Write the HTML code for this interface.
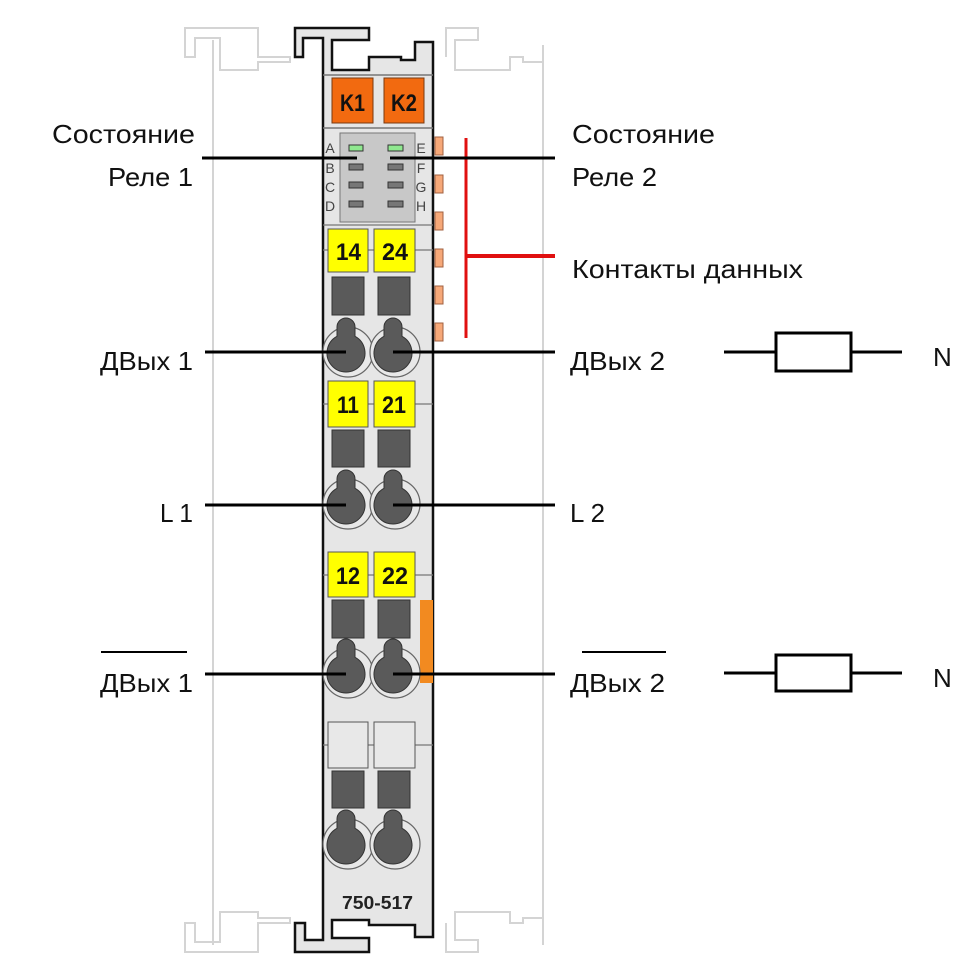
<!DOCTYPE html>
<html><head><meta charset="utf-8"><style>
html,body{margin:0;padding:0;background:#fff;width:980px;height:980px;overflow:hidden}
text{font-family:"Liberation Sans",sans-serif}
</style></head><body>
<svg width="980" height="980" viewBox="0 0 980 980" xmlns="http://www.w3.org/2000/svg">
<g fill="none" stroke="#d4d4d4" stroke-width="2">
<path d="M185,57 V28 H258 V57 H290 V62 H258 V70 H220 V38 H195 V57 Z"/>
<line x1="213" y1="40" x2="213" y2="945"/>
<path d="M446,57 V28 H478 V40 H455 V70 H510 V57 H523 V62 H543"/>
<line x1="543" y1="45" x2="543" y2="945"/>
<path d="M185,923 V952 H258 V923 H290 V918 H258 V912 H220 V942 H195 V923 Z"/>
<path d="M446,923 V952 H478 V940 H455 V912 H510 V923 H523 V918 H543"/>
</g>
<path d="M295,28 H369 V40 H332 V70 H369 V57 H401 V60 H415 V42 H433 V937 H415 V925 H369 V920 H332 V938 H369 V952 H295 V923 H305 V940 H323 V38 H303 V57 H295 Z" fill="#e6e6e6" stroke="#111" stroke-width="2.5"/>
<line x1="323" y1="75" x2="433" y2="75" stroke="#777" stroke-width="1.5"/>
<line x1="323" y1="128" x2="433" y2="128" stroke="#777" stroke-width="1.5"/>
<rect x="332" y="78" width="41" height="45" fill="#f26a10" stroke="#7a3a10" stroke-width="1"/>
<rect x="384" y="78" width="40" height="45" fill="#f26a10" stroke="#7a3a10" stroke-width="1"/>
<text x="340" y="111" font-size="24" font-weight="bold" fill="#111" textLength="25" lengthAdjust="spacingAndGlyphs">K1</text>
<text x="391" y="111" font-size="24" font-weight="bold" fill="#111" textLength="26" lengthAdjust="spacingAndGlyphs">K2</text>
<rect x="340" y="133" width="75" height="89" fill="#c8c8c8" stroke="#777" stroke-width="1"/>
<g stroke="#333" stroke-width="1">
<rect x="349" y="145" width="14" height="6" fill="#8fe88f"/>
<rect x="388" y="145" width="15" height="6" fill="#8fe88f"/>
<rect x="349" y="164" width="14" height="6" fill="#777"/>
<rect x="388" y="164" width="15" height="6" fill="#777"/>
<rect x="349" y="182" width="14" height="6" fill="#777"/>
<rect x="388" y="182" width="15" height="6" fill="#777"/>
<rect x="349" y="201" width="14" height="6" fill="#777"/>
<rect x="388" y="201" width="15" height="6" fill="#777"/>
</g>
<g font-size="14" fill="#444" text-anchor="middle">
<text x="330" y="153">A</text><text x="330" y="173">B</text><text x="330" y="192">C</text><text x="330" y="211">D</text>
<text x="421" y="153">E</text><text x="421" y="173">F</text><text x="421" y="192">G</text><text x="421" y="211">H</text>
</g>
<g fill="#f6a878" stroke="#a06040" stroke-width="1">
<rect x="435" y="137" width="8" height="18"/><rect x="435" y="175" width="8" height="18"/>
<rect x="435" y="212" width="8" height="18"/><rect x="435" y="249" width="8" height="18"/>
<rect x="435" y="286" width="8" height="18"/><rect x="435" y="323" width="8" height="18"/>
</g>
<rect x="420" y="600" width="13" height="83" fill="#f28a20"/>
<g stroke="#777" stroke-width="1.2">
<line x1="323" y1="250" x2="433" y2="250"/><line x1="323" y1="404" x2="433" y2="404"/>
<line x1="323" y1="575" x2="433" y2="575"/><line x1="323" y1="745" x2="433" y2="745"/>
<line x1="323" y1="225" x2="433" y2="225"/>
</g>
<g stroke="#555" stroke-width="1">
<rect x="328" y="229" width="40" height="43" fill="#ffff00"/><rect x="374" y="229" width="41" height="43" fill="#ffff00"/>
<rect x="328" y="381" width="40" height="46" fill="#ffff00"/><rect x="374" y="381" width="41" height="46" fill="#ffff00"/>
<rect x="328" y="552" width="40" height="45" fill="#ffff00"/><rect x="374" y="552" width="41" height="45" fill="#ffff00"/>
<rect x="328" y="722" width="40" height="46" fill="#e8e8e8"/><rect x="374" y="722" width="41" height="46" fill="#e8e8e8"/>
</g>
<g font-size="24" font-weight="bold" fill="#111">
<text x="336" y="260" textLength="25" lengthAdjust="spacingAndGlyphs">14</text><text x="382" y="260" textLength="26" lengthAdjust="spacingAndGlyphs">24</text>
<text x="337" y="413" textLength="22" lengthAdjust="spacingAndGlyphs">11</text><text x="382" y="413" textLength="24" lengthAdjust="spacingAndGlyphs">21</text>
<text x="336" y="584" textLength="24" lengthAdjust="spacingAndGlyphs">12</text><text x="382" y="584" textLength="26" lengthAdjust="spacingAndGlyphs">22</text>
</g>
<g fill="#5a5a5a" stroke="#333" stroke-width="1">
<rect x="332" y="277" width="32" height="38"/><rect x="378" y="277" width="32" height="38"/>
<rect x="332" y="430" width="32" height="37"/><rect x="378" y="430" width="32" height="37"/>
<rect x="332" y="600" width="32" height="38"/><rect x="378" y="600" width="32" height="38"/>
<rect x="332" y="771" width="32" height="37"/><rect x="378" y="771" width="32" height="37"/>
</g>
<defs>
<g id="clamp">
<circle cx="2" cy="0" r="25" fill="#e8e8e8" stroke="#666" stroke-width="1.2"/>
<path d="M-9,-15.7 V-25 A9,9 0 0 1 9,-25 V-15.7 A19,19 0 1 1 -9,-15.7 Z" fill="#5a5a5a" stroke="#333" stroke-width="1"/>
</g>
</defs>
<use href="#clamp" x="346" y="352"/><use href="#clamp" x="393" y="352"/>
<use href="#clamp" x="346" y="504"/><use href="#clamp" x="393" y="504"/>
<use href="#clamp" x="346" y="673"/><use href="#clamp" x="393" y="673"/>
<use href="#clamp" x="346" y="844"/><use href="#clamp" x="393" y="844"/>
<text x="342" y="909" font-size="18" font-weight="bold" fill="#222" textLength="71" lengthAdjust="spacingAndGlyphs">750-517</text>
<g stroke="#e01010" stroke-width="3">
<line x1="466" y1="138" x2="466" y2="338"/>
<line x1="466" y1="256" x2="555" y2="256" stroke-width="4"/>
</g>
<g stroke="#000" stroke-width="3">
<line x1="202" y1="158" x2="357" y2="158"/><line x1="390" y1="158" x2="555" y2="158"/>
<line x1="205" y1="352" x2="346" y2="352"/><line x1="393" y1="352" x2="555" y2="352"/>
<line x1="205" y1="505" x2="346" y2="505"/><line x1="393" y1="505" x2="555" y2="505"/>
<line x1="205" y1="674" x2="346" y2="674"/><line x1="393" y1="674" x2="555" y2="674"/>
<line x1="724" y1="352" x2="776" y2="352"/><line x1="851" y1="352" x2="902" y2="352"/>
<rect x="776" y="333" width="75" height="38" fill="#fff"/>
<line x1="724" y1="673" x2="776" y2="673"/><line x1="851" y1="673" x2="902" y2="673"/>
<rect x="776" y="655" width="75" height="36" fill="#fff"/>
<line x1="101" y1="652" x2="187" y2="652" stroke-width="2"/>
<line x1="582" y1="652" x2="666" y2="652" stroke-width="2"/>
</g>
<g font-size="26" fill="#111">
<text x="52" y="143" textLength="143" lengthAdjust="spacingAndGlyphs">Состояние</text>
<text x="108" y="186" textLength="85" lengthAdjust="spacingAndGlyphs">Реле 1</text>
<text x="572" y="143" textLength="143" lengthAdjust="spacingAndGlyphs">Состояние</text>
<text x="572" y="186" textLength="85" lengthAdjust="spacingAndGlyphs">Реле 2</text>
<text x="572" y="278" textLength="231" lengthAdjust="spacingAndGlyphs">Контакты данных</text>
<text x="100" y="370" textLength="93" lengthAdjust="spacingAndGlyphs">ДВых 1</text>
<text x="570" y="370" textLength="95" lengthAdjust="spacingAndGlyphs">ДВых 2</text>
<text x="160" y="522" textLength="33" lengthAdjust="spacingAndGlyphs">L 1</text>
<text x="570" y="522" textLength="35" lengthAdjust="spacingAndGlyphs">L 2</text>
<text x="100" y="692" textLength="93" lengthAdjust="spacingAndGlyphs">ДВых 1</text>
<text x="570" y="692" textLength="95" lengthAdjust="spacingAndGlyphs">ДВых 2</text>
<text x="933" y="366">N</text>
<text x="933" y="687">N</text>
</g>
</svg>
</body></html>
